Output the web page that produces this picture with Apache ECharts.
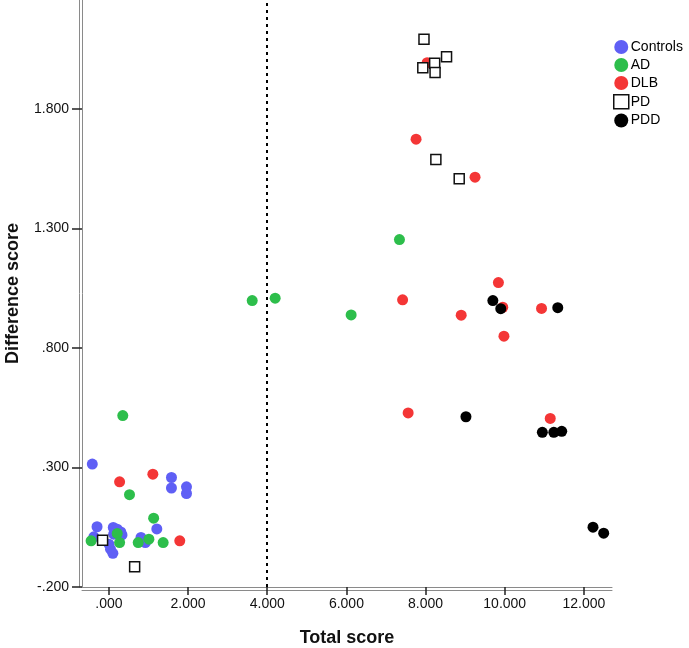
<!DOCTYPE html>
<html>
<head>
<meta charset="utf-8">
<script src="https://cdn.jsdelivr.net/npm/echarts@6/dist/echarts.min.js"></script>
<style>html,body{margin:0;padding:0;background:#fff}#c{width:689px;height:648px}</style>
</head>
<body>
<div id="c"></div>
<script>
var xTicks = [0, 2, 4, 6, 8, 10, 12];
var yTicks = [-0.2, 0.3, 0.8, 1.3, 1.8];
var cutoff = 4;

var controls = [
  [-0.42, 0.314], [1.58, 0.258], [1.58, 0.214], [1.96, 0.219], [1.96, 0.191],
  [1.21, 0.043], [-0.30, 0.052], [0.11, 0.049], [0.21, 0.042], [0.33, 0.018],
  [0.12, 0.021], [0.00, -0.021], [0.04, -0.042], [0.10, -0.059], [-0.38, 0.010],
  [0.81, 0.007], [0.92, -0.014], [0.30, 0.030]
];
var ad = [
  [0.35, 0.517], [0.52, 0.186], [1.13, 0.088], [-0.45, -0.007], [0.21, 0.024],
  [0.27, -0.014], [0.74, -0.014], [1.01, 0.000], [1.37, -0.014],
  [3.62, 0.998], [4.20, 1.008], [6.12, 0.938], [7.34, 1.253]
];
var dlb = [
  [1.11, 0.272], [0.27, 0.240], [1.79, -0.007],
  [8.04, 1.993], [7.76, 1.673], [9.25, 1.514], [9.84, 1.073], [7.42, 1.001],
  [9.95, 0.970], [10.93, 0.965], [8.90, 0.937], [9.98, 0.849], [7.56, 0.528],
  [11.15, 0.505]
];
var pd = [
  [-0.16, -0.004], [0.65, -0.115],
  [7.96, 2.091], [8.23, 1.990], [7.93, 1.972], [8.24, 1.952], [8.53, 2.018],
  [8.26, 1.588], [8.85, 1.507]
];
var pdd = [
  [9.70, 0.998], [9.90, 0.964], [11.34, 0.968], [9.02, 0.512], [10.95, 0.447],
  [11.24, 0.447], [11.44, 0.451], [12.23, 0.050], [12.50, 0.025]
];

function fmt(v) {
  var s = Number(v).toFixed(3);
  return s.replace(/^(-?)0\./, '$1.');
}

var FONT = 'Liberation Sans, Arial, sans-serif';
var chart = echarts.init(document.getElementById('c'), null, {renderer: 'canvas'});

function circleSeries(name, data, color) {
  return {
    name: name, type: 'scatter', data: data, symbol: 'circle', symbolSize: 11,
    itemStyle: {color: color, opacity: 1}, z: 3
  };
}

var option = {
  animation: false,
  backgroundColor: '#fff',
  grid: {left: 82, right: 77, top: 0, bottom: 61, containLabel: false, outerBoundsMode: 'none'},
  legend: {
    orient: 'vertical', left: 608, top: 35, itemGap: 4, itemWidth: 15, itemHeight: 14,
    textStyle: {fontFamily: FONT, fontSize: 14, color: '#000', padding: [0, 0, 0, -3]},
    data: [
      {name: 'Controls', icon: 'circle'},
      {name: 'AD', icon: 'circle'},
      {name: 'DLB', icon: 'circle'},
      {name: 'PD', icon: 'rect', itemStyle: {borderWidth: 1.5}},
      {name: 'PDD', icon: 'circle'}
    ]
  },
  xAxis: [{
    type: 'value', min: -0.68, max: 12.71,
    name: 'Total score', nameLocation: 'middle', nameGap: 42,
    nameTextStyle: {fontFamily: FONT, fontSize: 18, fontWeight: 'bold', color: '#111'},
    splitLine: {show: false},
    axisLine: {show: true, onZero: false, lineStyle: {color: '#8a8a8a', width: 1}},
    axisTick: {show: true, customValues: xTicks, length: 8, lineStyle: {color: '#222', width: 1.5}},
    axisLabel: {customValues: xTicks, formatter: fmt, fontFamily: FONT, fontSize: 14, color: '#111', margin: 10}
  }, {
    type: 'value', min: -0.68, max: 12.71, position: 'bottom', offset: 3,
    splitLine: {show: false}, axisTick: {show: false}, axisLabel: {show: false},
    axisLine: {show: true, onZero: false, lineStyle: {color: '#8a8a8a', width: 1}}
  }],
  yAxis: [{
    type: 'value', min: -0.2, max: 2.255,
    name: 'Difference score', nameLocation: 'middle', nameGap: 60, nameRotate: 90,
    nameTextStyle: {fontFamily: FONT, fontSize: 18, fontWeight: 'bold', color: '#111'},
    splitLine: {show: false},
    axisLine: {show: true, onZero: false, lineStyle: {color: '#8a8a8a', width: 1}},
    axisTick: {show: true, customValues: yTicks, length: 10, lineStyle: {color: '#222', width: 1.5}},
    axisLabel: {customValues: yTicks, formatter: fmt, fontFamily: FONT, fontSize: 14, color: '#111', margin: 13}
  }, {
    type: 'value', min: -0.2, max: 2.255, position: 'left', offset: 3,
    splitLine: {show: false}, axisTick: {show: false}, axisLabel: {show: false},
    axisLine: {show: true, onZero: false, lineStyle: {color: '#8a8a8a', width: 1}}
  }],
  series: [
    Object.assign(circleSeries('Controls', controls, '#5f5ff5'), {
      markLine: {
        silent: true, symbol: 'none', label: {show: false},
        lineStyle: {color: '#000', width: 2, type: [3, 4]},
        data: [{xAxis: cutoff}]
      }
    }),
    circleSeries('AD', ad, '#2dbe4b'),
    circleSeries('DLB', dlb, '#f43636'),
    {
      name: 'PD', type: 'scatter', data: pd, symbol: 'rect', symbolSize: 10,
      itemStyle: {color: '#fff', borderColor: '#111', borderWidth: 1.5, opacity: 1}, z: 4
    },
    circleSeries('PDD', pdd, '#000')
  ]
};
chart.setOption(option);
</script>
</body>
</html>
